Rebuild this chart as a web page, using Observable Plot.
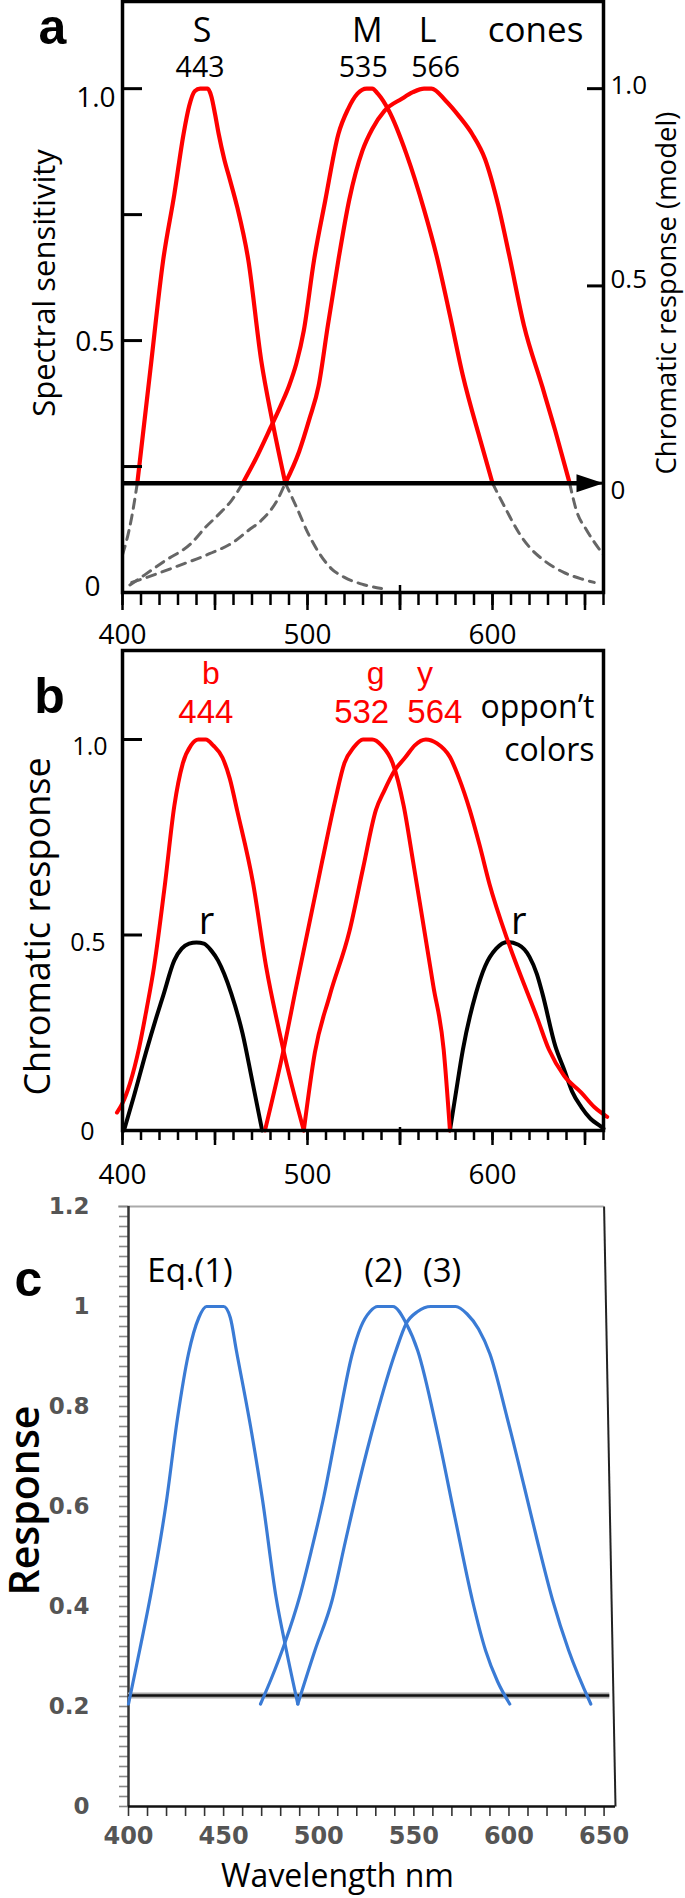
<!DOCTYPE html>
<html><head><meta charset="utf-8">
<script src="https://cdn.jsdelivr.net/npm/d3@7"></script>
<script src="https://cdn.jsdelivr.net/npm/@observablehq/plot@0.6"></script>
<style>
html,body{margin:0;padding:0;background:#fff;}
#chart{width:685px;}
#chart svg{display:block;}
</style></head><body><div id="chart"></div>
<script>
// ---------- Panel a : cone sensitivities (wavelength nm, sensitivity) ----------
const sSolid = [[408,0.217],[415,0.44],[422,0.66],[428,0.79],[433,0.91],[436,0.965],[439,0.995],[442,1.0],[446,1.0],[448,0.985],[450,0.95],[452,0.91],[455,0.86],[458,0.82],[462,0.765],[468,0.66],[475,0.46],[481,0.34],[488,0.217]];
const mSolid = [[465,0.217],[472,0.265],[480,0.327],[486,0.375],[490,0.41],[494,0.455],[498,0.52],[503.5,0.659],[509.6,0.778],[516.7,0.91],[522,0.96],[527,0.99],[532,1.0],[535,1.0],[538,0.99],[544,0.956],[553.5,0.87],[563,0.76],[570,0.665],[577,0.55],[584,0.43],[593.6,0.3],[600,0.217]];
const lSolid = [[488,0.217],[495.5,0.28],[501,0.344],[506,0.41],[511,0.53],[516.7,0.66],[522.6,0.78],[529.7,0.877],[535,0.92],[541.6,0.956],[551,0.98],[557,0.993],[563,1.0],[567,1.0],[574.7,0.976],[582,0.945],[589,0.91],[596,0.86],[603,0.77],[609,0.67],[617,0.53],[626.8,0.41],[634,0.32],[641.7,0.217]];
const sDashLeft = [[400,0.075],[402,0.1],[405,0.15],[408,0.217]];
const sDashRight = [[488,0.217],[494,0.17],[500,0.12],[506,0.08],[513,0.047],[520,0.03],[530,0.016],[540,0.008]];
const mDashLeft = [[404,0.015],[412,0.035],[423,0.063],[437,0.097],[445,0.13],[452,0.155],[459,0.183],[465,0.217]];
const mDashRight = [[600,0.217],[608,0.16],[614,0.12],[620,0.09],[627,0.066],[638.5,0.04],[648,0.027],[655,0.02]];
const lDashLeft = [[405,0.02],[417,0.035],[428,0.05],[447,0.077],[460,0.1],[468,0.123],[475,0.143],[483.6,0.183],[488,0.217]];
const lDashRight = [[641.7,0.217],[645.6,0.16],[650.5,0.126],[655,0.1],[660,0.075]];
const modelZero = 0.217;              // sensitivity at which the model response is 0
const coneNames = ["S","M","L"];
const conePeaks = [443, 535, 566];
const leftLabelsA = [0, 0.5, 1.0];
const leftTicksA = [0.25, 0.5, 0.75, 1.0];
const rightLabelsA = [0, 0.5, 1.0];

// ---------- Panel b : opponent colours ----------
const bOpp = [[397,0.046],[400,0.07],[404,0.12],[409,0.212],[413,0.31],[417,0.417],[423,0.632],[428,0.83],[432.6,0.939],[437,0.985],[441,1.0],[445,1.0],[449,0.985],[454,0.954],[458,0.9],[462,0.818],[470.6,0.632],[477.7,0.417],[485,0.248],[487,0.205],[498,0]];
const gOpp = [[477,0],[487,0.205],[494,0.37],[501,0.53],[508,0.69],[515,0.845],[520,0.94],[525,0.98],[530,1.0],[535,1.0],[540,0.985],[546,0.94],[552,0.83],[557,0.69],[562,0.545],[568,0.37],[573.6,0.207],[577,0]];
const yOpp = [[498,0],[504,0.2],[512,0.345],[522.7,0.51],[530,0.67],[537,0.82],[541.6,0.87],[547,0.92],[553,0.955],[558,0.985],[564,1.0],[570,0.99],[577,0.955],[582,0.9],[587.7,0.82],[593,0.73],[598.4,0.63],[607.9,0.49],[617.4,0.37],[624,0.29],[630.5,0.207],[638.7,0.14],[648,0.097],[655,0.06],[662,0.035]];
const rOppLeft = [[400.8,0],[406,0.085],[413,0.205],[418,0.285],[422,0.345],[428,0.435],[432,0.465],[436,0.478],[440,0.481],[444,0.478],[448,0.46],[451.6,0.435],[455,0.4],[458.8,0.35],[464.9,0.248],[470,0.13],[475.5,0]];
const rOppRight = [[577,0],[580,0.09],[584,0.207],[591,0.35],[596,0.42],[602,0.465],[608,0.482],[614,0.475],[620,0.444],[624,0.4],[627,0.35],[634,0.215],[638.7,0.156],[643,0.1],[648,0.06],[653,0.03],[658.7,0.01],[660,0.005]];
const oppNames = ["b","g","y"];
const oppPeaks = [444, 532, 564];
const rPeaks = [440, 612];
const leftLabelsB = [0, 0.5, 1.0];
const leftTicksB = [0.5, 1.0];

// ---------- Panel c : model equations ----------
const eq1 = [[400,0.205],[406,0.315],[412,0.43],[420,0.612],[425.7,0.775],[431.5,0.905],[437,0.978],[441,1.0],[450,1.0],[453.5,0.978],[456.7,0.912],[464.8,0.746],[470.5,0.612],[477.5,0.42],[483,0.312],[489,0.205]];
const eq2 = [[469.4,0.205],[475,0.255],[482,0.325],[490,0.42],[496,0.51],[502.7,0.62],[509.6,0.755],[517.6,0.905],[522,0.958],[527,0.99],[531,1.0],[539,1.0],[546,0.966],[552,0.912],[562.5,0.746],[571.6,0.578],[580.8,0.412],[587.7,0.312],[594,0.25],[600.4,0.205]];
const eq3 = [[489,0.205],[498,0.312],[507,0.412],[514,0.53],[521,0.645],[530,0.778],[540.6,0.912],[546,0.966],[552,0.99],[559,1.0],[572,1.0],[578,0.985],[584,0.955],[590,0.905],[599,0.778],[608,0.64],[615,0.53],[623,0.412],[631.4,0.312],[643,0.205]];
const eqNames = ["Eq.(1)","(2)","(3)"];
const eqPeaks = [445.5, 535, 568];
const baselineC = 0.222;
const yLabelsC = [0, 0.2, 0.4, 0.6, 0.8, 1, 1.2];
const xLabelsC = [400, 450, 500, 550, 600, 650];
const xLabelsAB = [400, 500, 600];

// ---------- helpers ----------
const rows = (arr, series) => arr.map(([w, v]) => ({w, v, series}));
const fmtAB = d => d === 0 ? "0" : d.toFixed(1);
const fmtC = d => String(d);
const SANS = "Open Sans, sans-serif";
const ARIAL = "Liberation Sans, Arial, sans-serif";
const DEJA = "DejaVu Sans, sans-serif";
const arrowHead = {draw(ctx, size) { const r = Math.sqrt(size / Math.PI); ctx.moveTo(0, 0); ctx.lineTo(-3 * r, -r); ctx.lineTo(-3 * r, r); ctx.closePath(); }};
const noLabel = () => "";
const chart = document.getElementById("chart");

// ================= PANEL A =================
{
  const mL = 122, mR = 82, plotW = 685 - mL - mR;
  const solid = [...rows(sSolid, "S"), ...rows(mSolid, "M"), ...rows(lSolid, "L")];
  const dash = [...rows(sDashLeft, "s1"), ...rows(sDashRight, "s2"), ...rows(mDashLeft, "m1"), ...rows(mDashRight, "m2"), ...rows(lDashLeft, "l1"), ...rows(lDashRight, "l2")];
  const toSens = r => modelZero + r * (1 - modelZero);
  const labels = coneNames.map((n, i) => ({n, p: conePeaks[i]}));
  const nameDx = [0, -5, -2], numDx = [-2, -9, 6];
  const lDx = [-22, -8, -7], lDy = [-5, 1, 9];
  const rDy = [8, -6, -3];
  const p = Plot.plot({
    width: 685, height: 648, marginLeft: mL, marginRight: mR, marginTop: 1, marginBottom: 56,
    x: {domain: [400, 660]}, y: {domain: [0, 1.173], axis: null},
    style: {fontFamily: SANS, background: "white", overflow: "visible", color: "black"},
    marks: [
      Plot.line(dash, {x: "w", y: "v", z: "series", stroke: "#666", strokeWidth: 3, strokeDasharray: "9,7", curve: "monotone-x"}),
      Plot.line(solid, {x: "w", y: "v", z: "series", stroke: "#ff0000", strokeWidth: 4.2, curve: "monotone-x"}),
      Plot.ruleY([modelZero], {x1: 400, x2: 650, stroke: "#000", strokeWidth: 4.5}),
      Plot.dot([modelZero], {x: () => 660, y: d => d, symbol: arrowHead, r: 9, fill: "#000", stroke: null}),
      Plot.frame({stroke: "#000", strokeWidth: 3.5}),
      Plot.tickY(leftTicksA, {y: d => d, stroke: "#000", strokeWidth: 3, insetRight: plotW - 20}),
      Plot.tickY(rightLabelsA.map(toSens), {y: d => d, stroke: "#000", strokeWidth: 3, insetLeft: plotW - 16}),
      Plot.axisX({ticks: d3.range(400, 661, 10), tickSize: 13, strokeWidth: 2.5, tickFormat: noLabel, label: null}),
      Plot.axisX({ticks: d3.range(400, 661, 50), tickSize: 18, strokeWidth: 2.5, tickFormat: noLabel, label: null}),
      Plot.axisX({ticks: [550], tickSize: 25, dy: -7, strokeWidth: 2.5, tickFormat: noLabel, label: null}),
      Plot.text(xLabelsAB, {x: d => d, frameAnchor: "bottom", dy: 51, lineAnchor: "bottom", textAnchor: "middle", text: d => String(d), fontSize: 28, fill: "#000"}),
      ...leftLabelsA.map((v, i) => Plot.text([v], {y: d => d, frameAnchor: "left", dx: lDx[i], dy: lDy[i], textAnchor: "end", text: fmtAB, fontSize: 28, fill: "#000"})),
      ...rightLabelsA.map((v, i) => Plot.text([toSens(v)], {y: d => d, frameAnchor: "right", dx: 7, dy: rDy[i], textAnchor: "start", text: () => fmtAB(v), fontSize: 26, fill: "#000"})),
      ...labels.map((d, i) => Plot.text([d], {x: "p", frameAnchor: "top", dx: nameDx[i], dy: 40, lineAnchor: "bottom", textAnchor: "middle", text: "n", fontSize: 34, fill: "#000"})),
      ...labels.map((d, i) => Plot.text([d], {x: "p", frameAnchor: "top", dx: numDx[i], dy: 75, lineAnchor: "bottom", textAnchor: "middle", text: d => String(d.p), fontSize: 28.5, fill: "#000"})),
      Plot.text(["cones"], {frameAnchor: "top-right", dx: -68, dy: 40, lineAnchor: "bottom", textAnchor: "middle", fontSize: 35, fill: "#000"}),
      Plot.text(["a"], {frameAnchor: "top-left", dx: -70, dy: 42, lineAnchor: "bottom", textAnchor: "middle", fontSize: 50, fontWeight: "bold", fontFamily: ARIAL, fill: "#000"}),
      Plot.text(["Spectral sensitivity"], {frameAnchor: "left", dx: -68, dy: -14, rotate: -90, lineAnchor: "bottom", textAnchor: "middle", fontSize: 31, fill: "#000"}),
      Plot.text(["Chromatic response (model)"], {frameAnchor: "right", dx: 72, dy: -4, rotate: -90, lineAnchor: "bottom", textAnchor: "middle", fontSize: 27.5, fill: "#000"})
    ]
  });
  chart.appendChild(p);
}

// ================= PANEL B =================
{
  const mL = 122, mR = 82, plotW = 685 - mL - mR;
  const red = [...rows(bOpp, "b"), ...rows(gOpp, "g"), ...rows(yOpp, "y")];
  const black = [...rows(rOppLeft, "r1"), ...rows(rOppRight, "r2")];
  const labels = oppNames.map((n, i) => ({n, p: oppPeaks[i]}));
  const nameDx = [7, 9, -1], numDx = [2, -5, 9];
  const rDx = [10, 4];
  const lDx = [-28, -17, -15], lDy = [1, 8, 8];
  const p = Plot.plot({
    width: 685, height: 547, marginLeft: mL, marginRight: mR, marginTop: 2, marginBottom: 65,
    x: {domain: [400, 660]}, y: {domain: [0, 1.2276], axis: null},
    style: {fontFamily: SANS, background: "white", overflow: "visible", color: "black"},
    marks: [
      Plot.line(black, {x: "w", y: "v", z: "series", stroke: "#000", strokeWidth: 4, curve: "monotone-x"}),
      Plot.line(red, {x: "w", y: "v", z: "series", stroke: "#ff0000", strokeWidth: 4, curve: "monotone-x"}),
      Plot.frame({stroke: "#000", strokeWidth: 3.5}),
      Plot.tickY(leftTicksB, {y: d => d, stroke: "#000", strokeWidth: 3, insetRight: plotW - 20}),
      Plot.axisX({ticks: d3.range(400, 661, 10), tickSize: 10, strokeWidth: 2.5, tickFormat: noLabel, label: null}),
      Plot.axisX({ticks: d3.range(400, 661, 50), tickSize: 15, strokeWidth: 2.5, tickFormat: noLabel, label: null}),
      Plot.axisX({ticks: [550], tickSize: 18, dy: -3, strokeWidth: 2.5, tickFormat: noLabel, label: null}),
      Plot.text(xLabelsAB, {x: d => d, frameAnchor: "bottom", dy: 53, lineAnchor: "bottom", textAnchor: "middle", text: d => String(d), fontSize: 28, fill: "#000"}),
      ...leftLabelsB.map((v, i) => Plot.text([v], {y: d => d, frameAnchor: "left", dx: lDx[i], dy: lDy[i], textAnchor: "end", text: fmtAB, fontSize: 25, fill: "#000"})),
      ...labels.map((d, i) => Plot.text([d], {x: "p", frameAnchor: "top", dx: nameDx[i], dy: 33, lineAnchor: "bottom", textAnchor: "middle", text: "n", fontSize: 32, fontFamily: ARIAL, fill: "#ff0000"})),
      ...labels.map((d, i) => Plot.text([d], {x: "p", frameAnchor: "top", dx: numDx[i], dy: 72, lineAnchor: "bottom", textAnchor: "middle", text: d => String(d.p), fontSize: 33, fontFamily: ARIAL, fill: "#ff0000"})),
      ...rPeaks.map((w, i) => Plot.text([w], {x: d => d, y: () => 0.5, dx: rDx[i], dy: -1, lineAnchor: "bottom", textAnchor: "middle", text: () => "r", fontSize: 38, fill: "#000"})),
      Plot.text(["oppon\u2019t"], {frameAnchor: "top-right", dx: -9, dy: 67, textAnchor: "end", lineAnchor: "bottom", fontSize: 32, fill: "#000"}),
      Plot.text(["colors"], {frameAnchor: "top-right", dx: -9, dy: 110, textAnchor: "end", lineAnchor: "bottom", fontSize: 32, fill: "#000"}),
      Plot.text(["b"], {frameAnchor: "top-left", dx: -73, dy: 62, lineAnchor: "bottom", textAnchor: "middle", fontSize: 50, fontWeight: "bold", fontFamily: ARIAL, fill: "#000"}),
      Plot.text(["Chromatic response"], {frameAnchor: "left", dx: -73, dy: 36, rotate: -90, lineAnchor: "bottom", textAnchor: "middle", fontSize: 36, fill: "#000"})
    ]
  });
  chart.appendChild(p);
}

// ================= PANEL C =================
{
  const mL = 128, mR = 70;
  const blue = [...rows(eq1, "1"), ...rows(eq2, "2"), ...rows(eq3, "3")];
  const labels = eqNames.map((n, i) => ({n, p: eqPeaks[i]}));
  const eqDx = [-25, -2, -6];
  const xEnd = 656, xTop = xLabelsC[xLabelsC.length - 1], yTop = yLabelsC[yLabelsC.length - 1];
  const p = Plot.plot({
    width: 685, height: 703, marginLeft: mL, marginRight: mR, marginTop: 11, marginBottom: 92,
    x: {domain: [400, xEnd]}, y: {domain: [0, yTop]},
    style: {fontFamily: SANS, background: "white", overflow: "visible", color: "black"},
    marks: [
      Plot.ruleY([yTop], {x1: 400, x2: xTop, stroke: "#aaa", strokeWidth: 2, insetLeft: -10}),
      Plot.axisY({ticks: d3.range(0, 1.2001, 0.02), tickSize: 9, stroke: "#888", strokeWidth: 1.6, tickFormat: noLabel, label: null}),
      Plot.axisX({ticks: d3.range(400, 651, 10), tickSize: 10, stroke: "#333", strokeWidth: 1.6, tickFormat: noLabel, label: null}),
      Plot.ruleX([400], {y1: 0, y2: yTop, stroke: "#333", strokeWidth: 2.5}),
      Plot.ruleY([0], {x1: 400, x2: xEnd, stroke: "#111", strokeWidth: 2.5}),
      Plot.link([0], {x1: () => xTop, y1: () => yTop, x2: () => xEnd, y2: () => 0, stroke: "#222", strokeWidth: 2}),
      Plot.ruleY([baselineC], {x1: 400, x2: 653, stroke: "#aaa", strokeWidth: 6}),
      Plot.ruleY([baselineC], {x1: 400, x2: 653, stroke: "#111", strokeWidth: 2.5}),
      Plot.line(blue, {x: "w", y: "v", z: "series", stroke: "#3a7bd5", strokeWidth: 3.2, curve: "monotone-x"}),
      Plot.text(yLabelsC, {y: d => d, frameAnchor: "left", dx: -39, textAnchor: "end", text: fmtC, fontSize: 23, fontWeight: "bold", fontFamily: DEJA, fill: "#555", letterSpacing: 2}),
      Plot.text(xLabelsC, {x: d => d, frameAnchor: "bottom", dy: 37, textAnchor: "middle", text: fmtC, fontSize: 24, fontWeight: "bold", fontFamily: DEJA, fill: "#555", letterSpacing: 2}),
      ...labels.map((d, i) => Plot.text([d], {x: "p", frameAnchor: "top", dx: eqDx[i], dy: 75, lineAnchor: "bottom", textAnchor: "middle", text: "n", fontSize: 33, fill: "#000"})),
      Plot.text(["c"], {frameAnchor: "top-left", dx: -100, dy: 89, lineAnchor: "bottom", textAnchor: "middle", fontSize: 50, fontWeight: "bold", fontFamily: ARIAL, fill: "#000"}),
      Plot.text(["Response"], {frameAnchor: "left", dx: -90, dy: -6, rotate: -90, lineAnchor: "bottom", textAnchor: "middle", fontSize: 41, fontWeight: 600, fill: "#000"}),
      Plot.text(["Wavelength nm"], {frameAnchor: "bottom", dx: -34.5, dy: 80, lineAnchor: "bottom", textAnchor: "middle", fontSize: 32, fill: "#000"})
    ]
  });
  chart.appendChild(p);
}
</script></body></html>
